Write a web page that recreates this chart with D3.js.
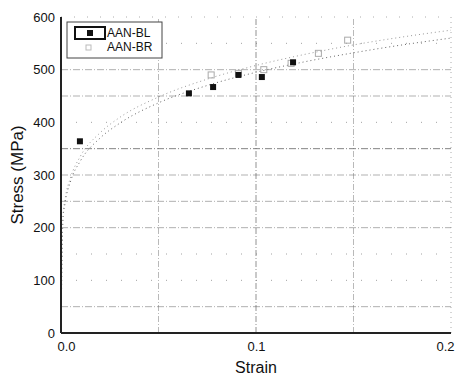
<!DOCTYPE html>
<html lang="en">
<head>
    <meta charset="UTF-8">
    <script src="https://cdn.jsdelivr.net/npm/d3@7"></script>
    <style>
        body { margin: 0; background: #fff; }
        text { font-family: "Liberation Sans", Arial, sans-serif; fill: #111; }
    </style>
</head>
<body>
    <div id="chart"></div>
</body>
<script>
    // DATA

    // measured points, AAN-BL (filled squares)
    const BL_STRAIN = [0.0097, 0.0656, 0.078, 0.091, 0.103, 0.119];
    const BL_STRESS = [364, 455, 467, 490, 486, 514];
    // measured points, AAN-BR (hollow squares)
    const BR_STRAIN = [0.077, 0.091, 0.104, 0.118, 0.132, 0.147];
    const BR_STRESS = [490, 493, 500, 512, 531, 556];
    // fitted curves (dotted), points picked along each curve
    const FIT_STRAIN = [0, 0.001, 0.002, 0.005, 0.01, 0.02, 0.03, 0.05, 0.075, 0.1, 0.125, 0.15, 0.175, 0.2];
    const FIT_BL = [0, 216, 245, 289, 327, 370, 398, 437, 470, 495, 515, 532, 547, 560];
    const FIT_BR = [0, 222, 252, 296, 336, 380, 409, 448, 482, 508, 529, 547, 562, 575];
    // axis ticks
    const Y_TICKS = [0, 100, 200, 300, 400, 500, 600];
    const X_TICKS = [0, 0.1, 0.2];
    const Y_GRID = [50, 100, 150, 200, 250, 300, 350, 400, 450, 500, 550];
    const Y_GRID_FAINT = [100, 150, 400, 550];
    const X_GRID = [0.05, 0.1, 0.15];
    const SERIES = ["AAN-BL", "AAN-BR"];

    const WIDTH = 463;
    const HEIGHT = 380;

    const svg = d3.select("#chart").append("svg")
        .attr("width", WIDTH)
        .attr("height", HEIGHT);

    // scales: plot area from pixel 61..451 horizontally, 17..333 vertically
    const x = d3.scaleLinear().domain([0, 0.2]).range([61, 451]);
    const y = d3.scaleLinear().domain([0, 600]).range([333, 17]);

    // GRID
    const grid = svg.append("g");
    grid.selectAll("line.hg")
        .data(Y_GRID)
        .enter()
        .append("line")
        .attr("x1", x(0)).attr("x2", x(0.2))
        .attr("y1", d => y(d)).attr("y2", d => y(d))
        .attr("stroke", "#666")
        .attr("stroke-width", 1)
        .attr("stroke-dasharray", d => Y_GRID_FAINT.includes(d) ? "1,14" : "7,2,1,2")
        .attr("opacity", d => Y_GRID_FAINT.includes(d) ? 0.6 : (d == 350 ? 0.8 : 0.5));
    grid.selectAll("line.vg")
        .data(X_GRID)
        .enter()
        .append("line")
        .attr("x1", d => x(d)).attr("x2", d => x(d))
        .attr("y1", y(0)).attr("y2", y(600))
        .attr("stroke", "#666")
        .attr("stroke-width", 1)
        .attr("stroke-dasharray", "6,2,1,2")
        .attr("opacity", d => d == 0.1 ? 0.7 : 0.45);
    // faint frame top / right
    grid.append("line")
        .attr("x1", x(0)).attr("x2", x(0.2)).attr("y1", y(600)).attr("y2", y(600))
        .attr("stroke", "#777").attr("stroke-dasharray", "1,12").attr("opacity", 0.6);
    grid.append("line")
        .attr("x1", x(0.2)).attr("x2", x(0.2)).attr("y1", y(0)).attr("y2", y(600))
        .attr("stroke", "#777").attr("stroke-dasharray", "1,4").attr("opacity", 0.6);

    // FIT CURVES
    const line = d3.line()
        .x(d => x(d[0]))
        .y(d => y(d[1]))
        .curve(d3.curveMonotoneX);
    svg.append("path")
        .attr("d", line(d3.zip(FIT_STRAIN, FIT_BL)))
        .attr("fill", "none")
        .attr("stroke", "#666")
        .attr("stroke-width", 1)
        .attr("stroke-dasharray", "1,3");
    svg.append("path")
        .attr("d", line(d3.zip(FIT_STRAIN, FIT_BR)))
        .attr("fill", "none")
        .attr("stroke", "#999")
        .attr("stroke-width", 1)
        .attr("stroke-dasharray", "1,3");

    // POINTS
    svg.selectAll("rect.br")
        .data(d3.zip(BR_STRAIN, BR_STRESS))
        .enter()
        .append("rect")
        .attr("x", d => x(d[0]) - 3)
        .attr("y", d => y(d[1]) - 3)
        .attr("width", 6).attr("height", 6)
        .attr("fill", "none")
        .attr("stroke", "#aaa")
        .attr("stroke-width", 1);
    svg.selectAll("rect.bl")
        .data(d3.zip(BL_STRAIN, BL_STRESS))
        .enter()
        .append("rect")
        .attr("x", d => x(d[0]) - 3)
        .attr("y", d => y(d[1]) - 3)
        .attr("width", 6).attr("height", 6)
        .attr("fill", "#111");

    // AXES
    const yAxis = d3.axisLeft(y).tickValues(Y_TICKS).tickSize(0).tickPadding(6);
    const xAxis = d3.axisBottom(x).tickValues(X_TICKS).tickSize(0).tickPadding(9).tickFormat(d3.format(".1f"));
    const gy = svg.append("g").attr("transform", "translate(" + x(0) + ",0)").call(yAxis);
    const gx = svg.append("g").attr("transform", "translate(0," + y(0) + ")").call(xAxis);
    gy.select(".domain").remove();
    gx.select(".domain").remove();
    gy.selectAll("text").style("font-size", "13px").style("font-family", "Liberation Sans, Arial, sans-serif");
    gx.selectAll("text").style("font-size", "13px").style("font-family", "Liberation Sans, Arial, sans-serif");
    gx.selectAll(".tick text").attr("text-anchor", (d, i) => i == 2 ? "end" : (i == 0 ? "start" : "middle"))
        .attr("dx", (d, i) => i == 2 ? 3 : (i == 0 ? -4 : 0));
    svg.append("line")
        .attr("x1", x(0)).attr("x2", x(0)).attr("y1", y(0)).attr("y2", y(600))
        .attr("stroke", "#222").attr("stroke-width", 2);
    svg.append("line")
        .attr("x1", x(0)).attr("x2", x(0.2)).attr("y1", y(0)).attr("y2", y(0))
        .attr("stroke", "#222").attr("stroke-width", 2);

    // axis titles
    svg.append("text")
        .attr("x", (x(0) + x(0.2)) / 2)
        .attr("y", 373)
        .attr("text-anchor", "middle")
        .style("font-size", "16px")
        .text("Strain");
    svg.append("text")
        .attr("transform", "translate(23," + y(300) + ") rotate(-90)")
        .attr("text-anchor", "middle")
        .style("font-size", "17px")
        .text("Stress (MPa)");

    // LEGEND
    const legend = svg.append("g").attr("transform", "translate(67,22)");
    legend.append("rect")
        .attr("width", 95).attr("height", 36)
        .attr("fill", "#fff")
        .attr("stroke", "#444").attr("stroke-width", 1);
    legend.append("rect")
        .attr("x", 8).attr("y", 5).attr("width", 30).attr("height", 12)
        .attr("fill", "#fff").attr("stroke", "#111").attr("stroke-width", 2);
    legend.append("rect")
        .attr("x", 20).attr("y", 8).attr("width", 6).attr("height", 6)
        .attr("fill", "#111");
    legend.append("rect")
        .attr("x", 19).attr("y", 23).attr("width", 5).attr("height", 5)
        .attr("fill", "none").attr("stroke", "#bbb");
    legend.selectAll("text.lg")
        .data(SERIES)
        .enter()
        .append("text")
        .attr("x", 40)
        .attr("y", (d, i) => 15 + i * 14)
        .style("font-size", "12px")
        .text(d => d);
</script>
</html>
